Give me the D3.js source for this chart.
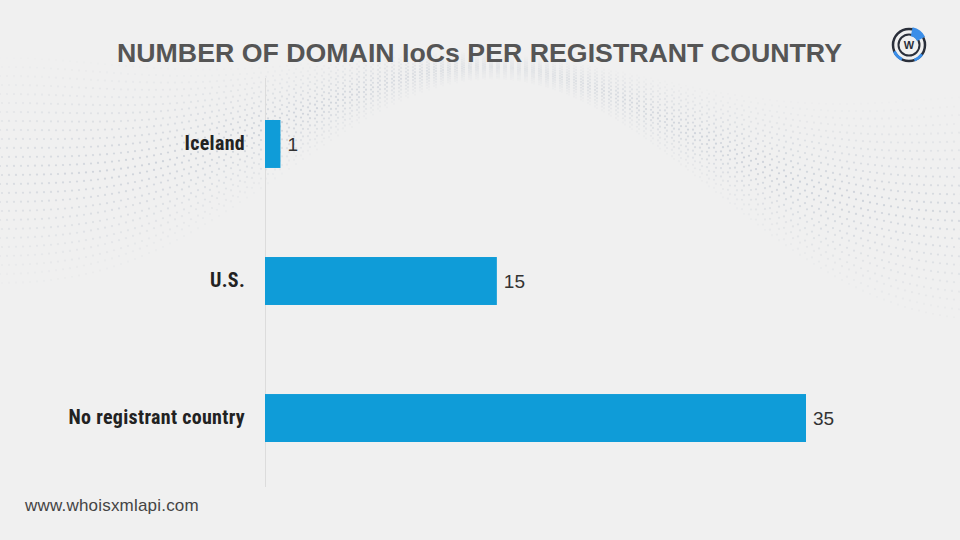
<!DOCTYPE html>
<html><head><meta charset="utf-8">
<script src="https://cdn.jsdelivr.net/npm/d3@7"></script>
<style>body{margin:0;background:#f0f0f0;}svg{display:block;}</style>
</head><body>
<svg id="chart" width="960" height="540"></svg>
<script>
const categories = ["Iceland", "U.S.", "No registrant country"];
const values = [1, 15, 35];
const titleText = "NUMBER OF DOMAIN IoCs PER REGISTRANT COUNTRY";
const footerText = "www.whoisxmlapi.com";

const svg = d3.select("#chart");
const W = 960, H = 540;
svg.append("rect").attr("width", W).attr("height", H).attr("fill", "#f0f0f0");

// decorative dotted wave background
const deco = svg.append("g").attr("class", "deco");
const dots = [];
for (let gx = 0; gx < 960; gx += 7) {
  for (let k = 0; k < 26; k++) {
    const t = gx / 960;
    const base = 175 - 80 * Math.sin(t * Math.PI * 1.1) + 30 * Math.sin(t * 9);
    const spread = 5 + 4 * Math.cos(t * 6);
    const yy = base + (k - 13) * spread;
    const fadeK = 1 - Math.abs(k - 13) / 14;
    const fadeX = 0.35 + 0.65 * Math.abs(Math.sin(t * 5 + 0.5));
    dots.push({x: gx + (k % 2) * 2, y: yy, o: 0.5 * fadeK * fadeX});
  }
}
deco.selectAll("circle").data(dots).join("circle")
  .attr("cx", d => d.x).attr("cy", d => d.y).attr("r", 1.1)
  .attr("fill", "#a9b3c2").attr("opacity", d => d.o);

// scales
const x = d3.scaleLinear().domain([0, 35]).range([265, 806]);
const y = d3.scaleBand().domain(categories).range([85.75, 476.25])
  .paddingInner(0.65).paddingOuter(0.25);

// axis line
svg.append("line").attr("x1", 265.5).attr("x2", 265.5).attr("y1", 78).attr("y2", 487)
  .attr("stroke", "#dcdcdc").attr("stroke-width", 1);

const data = categories.map((c, i) => ({c, v: values[i]}));

svg.append("g").selectAll("rect").data(data).join("rect")
  .attr("x", x(0)).attr("y", d => y(d.c))
  .attr("width", d => x(d.v) - x(0)).attr("height", y.bandwidth())
  .attr("fill", "#0f9cd8");

// category labels
const yAxis = d3.axisLeft(y).tickSize(0).tickPadding(20);
const ag = svg.append("g").attr("transform", "translate(265,0)").call(yAxis);
ag.select(".domain").remove();
ag.selectAll("text")
  .attr("font-family", "'Liberation Sans Narrow', 'Roboto Condensed', 'Liberation Sans', sans-serif")
  .attr("font-weight", "bold").attr("font-size", 20).attr("fill", "#222")
  .attr("letter-spacing", 0.3);

// value labels
svg.append("g").selectAll("text").data(data).join("text")
  .attr("x", d => x(d.v) + 7).attr("y", d => y(d.c) + y.bandwidth() / 2)
  .attr("dy", "0.36em")
  .attr("font-family", "'Liberation Sans', Arial, sans-serif").attr("font-size", 19)
  .attr("fill", "#333").text(d => d.v);

// title
svg.append("text").attr("x", 117).attr("y", 62)
  .attr("font-family", "'Liberation Sans', Arial, sans-serif").attr("font-weight", "bold")
  .attr("font-size", 26).attr("fill", "#555")
  .attr("textLength", 725).attr("lengthAdjust", "spacingAndGlyphs")
  .text(titleText);

// footer
svg.append("text").attr("x", 25).attr("y", 511)
  .attr("font-family", "'Liberation Sans', Arial, sans-serif")
  .attr("font-size", 17).attr("letter-spacing", 0.2).attr("fill", "#444").text(footerText);

// logo
const lg = svg.append("g").attr("transform", "translate(909,45)");
lg.append("circle").attr("r", 16).attr("fill", "none").attr("stroke", "#2a2f3a").attr("stroke-width", 2.5);
lg.append("circle").attr("r", 10.5).attr("fill", "none").attr("stroke", "#2a2f3a").attr("stroke-width", 2);
const arc = d3.arc();
lg.append("path").attr("d", arc({innerRadius: 9, outerRadius: 18, startAngle: 0.2, endAngle: 1.1})).attr("fill", "#3b8ee8");
lg.append("path").attr("d", arc({innerRadius: 14.5, outerRadius: 17.5, startAngle: 3.6, endAngle: 4.3})).attr("fill", "#3b8ee8");
lg.append("path").attr("d", arc({innerRadius: 14.5, outerRadius: 17.5, startAngle: 2.2, endAngle: 2.8})).attr("fill", "#3b8ee8");
lg.append("text").attr("text-anchor", "middle").attr("dy", "0.36em")
  .attr("font-family", "'Liberation Sans', Arial, sans-serif").attr("font-weight", "bold")
  .attr("font-size", 11).attr("fill", "#2a2f3a").text("W");
</script>
</body></html>
